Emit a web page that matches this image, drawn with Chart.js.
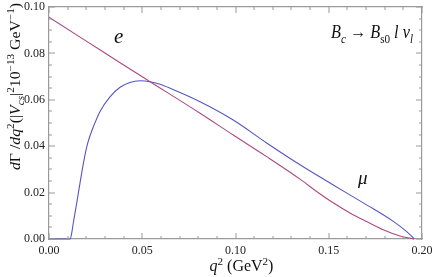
<!DOCTYPE html>
<html>
<head>
<meta charset="utf-8">
<script src="https://cdn.jsdelivr.net/npm/chart.js@4.4.1/dist/chart.umd.min.js"></script>
<style>
  body { margin: 0; background: #fff; }
  #wrap { width: 436px; height: 277px; position: relative; }
</style>
</head>
<body>
<div id="wrap"><canvas id="rateChart"></canvas></div>
<script>
// B_c -> B_s0 l nu, differential rate
const qE = [0, 0.02, 0.04, 0.054, 0.081, 0.0988, 0.1167, 0.1346, 0.1435, 0.1524, 0.1614, 0.1703, 0.1792, 0.1882, 0.1957];
const rateE = [0.0956, 0.0853, 0.0750, 0.0679, 0.0542, 0.0448, 0.0355, 0.0258, 0.0205, 0.0156, 0.0112, 0.0075, 0.0040, 0.0013, 0];

const qMu = [0, 0.0113, 0.0122, 0.0130, 0.01485, 0.0166, 0.0184, 0.0202, 0.0220, 0.0238, 0.0273, 0.0327, 0.0381, 0.0434, 0.0488, 0.0542, 0.0595, 0.0649, 0.081, 0.0988, 0.1167, 0.1346, 0.1524, 0.1703, 0.1846, 0.1918, 0.1959];
const rateMu = [0, 0, 0.0026, 0.0068, 0.0154, 0.0240, 0.0324, 0.0396, 0.0445, 0.0484, 0.0549, 0.0613, 0.0654, 0.0675, 0.0682, 0.0678, 0.0667, 0.0650, 0.0592, 0.0513, 0.0414, 0.0320, 0.0233, 0.0147, 0.0076, 0.0032, 0];

const xTicks = [0, 0.05, 0.10, 0.15, 0.20];
const yTicks = [0, 0.02, 0.04, 0.06, 0.08, 0.10];

const serif = '"Liberation Serif", "DejaVu Serif", serif';
const frameColor = '#9a9a9a';

function fontFor(p, size) {
    const s = (p.sup || p.sub) ? Math.round(size * 0.7) : size;
    return (p.it ? 'italic ' : '') + s + 'px ' + serif;
}

function textWidth(c, parts, size) {
    let w = 0;
    parts.forEach(p => {
        c.font = fontFor(p, size);
        w += c.measureText(p.t).width;
    });
    return w;
}

// draws text with italics / sub / superscripts starting at x
function drawRich(c, parts, x, y, size) {
    let cx = x;
    parts.forEach(p => {
        c.font = fontFor(p, size);
        let dy = 0;
        if (p.sup) dy = -size * 0.4;
        if (p.sub) dy = size * 0.25;
        c.fillText(p.t, cx, y + dy);
        cx += c.measureText(p.t).width;
    });
}

const yTitle = [
    {t: 'd', it: true}, {t: 'Γ'}, {t: ' /'}, {t: 'd', it: true}, {t: 'q', it: true}, {t: '2', sup: true},
    {t: '(|'}, {t: 'V', it: true}, {t: 'cs', it: true, sub: true}, {t: '|'}, {t: '2', sup: true},
    {t: '10'}, {t: '−13', sup: true}, {t: ' GeV'}, {t: '−1', sup: true}, {t: ')'}
];
const xTitle = [{t: 'q', it: true}, {t: '2', sup: true}, {t: ' (GeV'}, {t: '2', sup: true}, {t: ')'}];
const decayLabel = [
    {t: 'B', it: true}, {t: 'c', it: true, sub: true}, {t: ' → '}, {t: 'B', it: true},
    {t: 's0', sub: true}, {t: ' '}, {t: 'l', it: true}, {t: ' '}, {t: 'ν', it: true}, {t: 'l', it: true, sub: true}
];

// inner tick marks plus all the free text
const framePlugin = {
    id: 'mmaFrame',
    afterDraw(chart) {
        const c = chart.ctx;
        const a = chart.chartArea;
        const xs = chart.scales.x;
        const ys = chart.scales.y;
        c.save();
        c.fillStyle = frameColor;
        for (let i = 0; i <= 20; i++) {
            const px = Math.round(xs.getPixelForValue(i * 0.01));
            const len = i % 5 === 0 ? 6 : 3;
            c.fillRect(px - 0.5, a.bottom - len, 1, len);
            c.fillRect(px - 0.5, a.top, 1, len);
        }
        for (let i = 0; i <= 20; i++) {
            const py = Math.round(ys.getPixelForValue(i * 0.005));
            const len = i % 4 === 0 ? 6 : 3;
            c.fillRect(a.left, py - 0.5, len, 1);
            c.fillRect(a.right - len, py - 0.5, len, 1);
        }

        c.fillStyle = '#111';
        c.textBaseline = 'alphabetic';
        c.textAlign = 'left';

        // y axis title, rotated and stretched to the length seen in the picture
        c.save();
        c.translate(20, 170);
        c.rotate(-Math.PI / 2);
        const wy = textWidth(c, yTitle, 14);
        c.scale(167 / wy, 1);
        drawRich(c, yTitle, 0, 0, 14);
        c.restore();

        // x axis title
        const wx = textWidth(c, xTitle, 16);
        drawRich(c, xTitle, (a.left + a.right) / 2 - wx / 2 + 6, 271, 16);

        // curve labels
        drawRich(c, [{t: 'e', it: true}], 114, 43, 21);
        drawRich(c, [{t: 'μ', it: true}], 358, 184, 19);

        // decay label, squeezed a little if wider than in the picture
        c.save();
        c.translate(331, 38);
        const wd = textWidth(c, decayLabel, 19);
        c.scale(Math.min(1, 82 / wd), 1);
        drawRich(c, decayLabel, 0, 0, 19);
        c.restore();

        c.restore();
    }
};

const chartCtx = document.getElementById('rateChart').getContext('2d');

new Chart(chartCtx, {
    type: 'scatter',
    data: {
        datasets: [{
            label: 'e',
            data: qE.map((q, i) => ({x: q, y: rateE[i]})),
            showLine: true,
            borderColor: '#ac4a80',
            borderWidth: 1.1,
            pointRadius: 0,
            cubicInterpolationMode: 'monotone',
            clip: 3
        }, {
            label: 'mu',
            data: qMu.map((q, i) => ({x: q, y: rateMu[i]})),
            showLine: true,
            borderColor: '#5656c0',
            borderWidth: 1.1,
            pointRadius: 0,
            cubicInterpolationMode: 'monotone',
            clip: 3
        }]
    },
    options: {
        responsive: true,
        maintainAspectRatio: false,
        animation: false,
        layout: { padding: { top: 7, right: 14, left: 0, bottom: 0 } },
        plugins: {
            legend: { display: false },
            tooltip: { enabled: false }
        },
        scales: {
            x: {
                type: 'linear',
                min: 0,
                max: 0.2,
                afterBuildTicks: scale => { scale.ticks = xTicks.map(v => ({value: v})); },
                afterFit: scale => { scale.height = 38; scale.paddingLeft = 0; scale.paddingRight = 0; },
                grid: { display: false, drawTicks: false },
                border: { display: true, color: frameColor, width: 1.2 },
                ticks: {
                    padding: 5,
                    color: '#222',
                    maxRotation: 0,
                    autoSkip: false,
                    font: { family: serif, size: 12 },
                    callback: v => Number(v).toFixed(2)
                }
            },
            x2: {
                type: 'linear',
                position: 'top',
                min: 0,
                max: 0.2,
                afterFit: scale => { scale.height = 0; scale.paddingLeft = 0; scale.paddingRight = 0; },
                grid: { display: false, drawTicks: false },
                border: { display: true, color: frameColor, width: 1.2 },
                ticks: { display: false }
            },
            y: {
                type: 'linear',
                min: 0,
                max: 0.1,
                afterBuildTicks: scale => { scale.ticks = yTicks.map(v => ({value: v})); },
                afterFit: scale => { scale.width = 49; scale.paddingTop = 0; scale.paddingBottom = 0; },
                grid: { display: false, drawTicks: false },
                border: { display: true, color: frameColor, width: 1.2 },
                ticks: {
                    padding: 4,
                    color: '#222',
                    autoSkip: false,
                    font: { family: serif, size: 12 },
                    callback: v => Number(v).toFixed(2)
                }
            },
            y2: {
                type: 'linear',
                position: 'right',
                min: 0,
                max: 0.1,
                afterFit: scale => { scale.width = 0; scale.paddingTop = 0; scale.paddingBottom = 0; },
                grid: { display: false, drawTicks: false },
                border: { display: true, color: frameColor, width: 1.2 },
                ticks: { display: false }
            }
        }
    },
    plugins: [framePlugin]
});
</script>
</body>
</html>
